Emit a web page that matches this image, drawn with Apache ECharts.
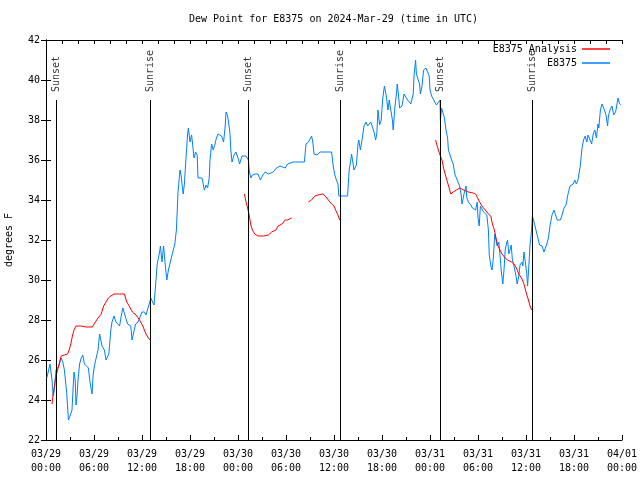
<!DOCTYPE html>
<html>
<head>
<meta charset="utf-8">
<script src="https://cdn.jsdelivr.net/npm/echarts@6/dist/echarts.min.js"></script>
<style>html,body{margin:0;padding:0;background:#fff}#c{width:640px;height:480px}</style>
</head>
<body>
<div id="c"></div>
<script>
// Hours since 2024-03-29 00:00 UTC, dew point in degrees F
var stationObs = [
[0.1,25.1],[0.5,25.8],[0.75,25.0],[0.9,24.2],[1.04,24.5],[1.25,25.5],[1.6,25.7],[1.9,26.1],[2.1,25.9],[2.3,25.5],[2.6,24.3],[2.8,23.0],[3.0,23.2],[3.25,23.5],[3.4,24.7],[3.5,25.4],[3.65,25.0],[3.75,23.75],[3.9,24.3],[4.0,25.0],[4.2,25.8],[4.4,26.1],[4.6,26.25],[4.8,25.8],[5.0,25.7],[5.3,25.6],[5.5,24.9],[5.75,24.3],[5.9,25.3],[6.1,25.8],[6.3,25.9],[6.5,26.5],[6.7,27.3],[6.9,26.9],[7.0,26.7],[7.15,26.8],[7.3,26.5],[7.5,26.0],[7.7,26.0],[7.85,26.3],[8.0,27.0],[8.1,27.5],[8.25,27.9],[8.5,28.2],[8.75,27.9],[8.95,27.8],[9.2,27.7],[9.4,28.2],[9.6,28.6],[9.8,28.7],[9.9,28.2],[10.2,27.8],[10.4,27.8],[10.6,27.7],[10.75,27.0],[10.9,27.1],[11.2,27.8],[11.5,27.9],[11.75,27.9],[12.0,28.4],[12.3,28.4],[12.5,28.25],[12.75,28.3],[12.9,28.8],
[13.1,29.1],[13.3,29.1],[13.5,28.75],[13.7,29.75],[13.9,30.8],[14.2,31.4],[14.3,31.7],[14.5,30.9],[14.7,31.7],[14.9,30.8],[15.1,30.0],[15.3,30.5],[15.6,31.0],[15.8,30.9],[16.1,31.8],[16.3,32.5],[16.5,34.4],[16.75,35.5],[16.9,35.2],[17.0,34.8],[17.15,34.3],[17.3,34.8],[17.45,35.8],[17.6,36.7],[17.7,37.3],[17.8,37.6],[18.0,36.9],[18.2,37.25],[18.3,36.9],[18.5,36.1],[18.7,36.4],[18.9,36.25],[19.0,35.1],[19.5,35.1],[19.7,35.0],[19.8,34.5],[20.0,34.75],[20.2,34.6],[20.4,35.1],[20.5,36.0],[20.7,36.8],[20.9,36.5],[21.1,36.75],[21.3,37.1],[21.5,37.3],[21.95,37.2],[22.2,36.9],[22.4,37.7],[22.5,38.4],[22.7,38.2],[22.85,37.8],[23.0,37.3],[23.1,36.5],[23.25,35.9],[23.5,36.25],[23.75,36.4],[24.0,36.1],[24.2,35.8],[24.5,36.2],[24.75,36.25],[25.0,36.2],[25.3,36.0],[25.4,35.5],[25.6,35.1],[25.8,35.25],[26.1,35.3],[26.5,35.3],[26.8,35.0],[27.1,35.25],[27.4,35.4],[27.8,35.3],[28.4,35.4],[28.8,35.6],[29.25,35.7],[29.9,35.6],[30.2,35.8],[30.4,35.9],[30.9,35.9],[32.3,35.9],[32.5,36.8],[32.8,36.9],[33.0,37.0],[33.2,37.2],[33.35,36.9],[33.5,36.3],[33.6,36.2],[33.9,36.25],[34.25,36.4],[35.7,36.4],[35.9,35.7],[36.1,35.25],[36.3,35.0],[36.5,34.8],[36.6,34.2],[37.7,34.2],[37.8,34.9],[37.9,35.5],[38.1,36.0],[38.2,36.3],[38.35,35.9],[38.5,35.5],[38.8,35.75],[39.0,36.8],[39.1,37.0],[39.3,36.5],[39.5,37.0],[39.75,37.7],[40.0,37.9],[40.2,37.7],[40.4,37.75],[40.6,37.9],[40.8,37.9],[41.0,37.4],[41.2,37.0],[41.35,37.3],[41.5,38.5],[41.7,37.75],[41.9,38.0],[42.1,39.1],[42.3,39.7],[42.5,39.3],[42.75,38.5],[42.9,39.0],[43.1,38.5],[43.3,38.0],[43.4,37.5],[43.6,38.6],[43.8,39.3],[43.9,39.8],[44.05,39.3],[44.2,38.6],[44.5,38.7],[44.75,39.3],[44.95,39.25],[45.2,39.0],[45.4,39.1],[45.6,38.8],[45.7,38.7],[45.9,39.3],[46.0,40.2],[46.2,41.0],[46.3,40.3],[46.5,40.2],[46.7,39.8],[46.8,39.3],[47.0,39.7],[47.2,40.5],[47.5,40.6],[47.7,40.5],[47.9,40.2],[48.0,39.5],[48.2,39.2],[48.4,39.1],[48.6,38.9],[48.8,38.75],[49.0,38.8],[49.25,39.0],[49.3,38.0],[49.45,38.6],[49.6,38.5],[49.8,38.1],[50.0,37.5],[50.2,37.1],[50.3,36.5],[50.5,36.6],[50.7,36.0],[50.9,35.8],[51.1,35.3],[51.3,35.2],[51.5,34.9],[51.7,34.7],[51.9,34.25],[52.0,33.8],[52.25,34.3],[52.5,34.7],[52.6,34.1],[52.8,33.9],[53.1,33.75],[53.3,33.6],[53.5,33.7],[53.7,33.5],[53.9,33.9],[54.0,33.1],[54.15,32.7],[54.3,33.7],[54.45,33.75],[54.7,33.4],[54.9,33.3],[55.1,33.25],[55.3,32.5],[55.4,31.3],[55.6,30.7],[55.75,30.5],[55.9,31.0],[56.1,32.3],[56.25,32.0],[56.4,31.7],[56.6,31.9],[56.75,31.25],[56.9,30.5],[57.1,29.8],[57.25,30.5],[57.4,31.5],[57.55,31.8],[57.7,32.0],[57.85,31.3],[58.0,31.5],[58.15,31.75],[58.3,31.0],[58.45,30.8],[58.6,30.7],[58.75,30.2],[58.9,29.8],[59.1,30.2],[59.25,30.75],[59.5,30.9],[59.6,30.7],[59.75,31.4],[59.9,31.3],[60.1,30.3],[60.2,29.7],[60.4,31.0],[60.5,31.75],[60.7,32.5],[60.8,33.2],[60.95,33.2],[61.1,32.75],[61.3,32.4],[61.5,32.3],[61.7,31.75],[62.0,31.7],[62.25,31.4],[62.45,31.4],[62.6,31.8],[62.8,32.1],[63.0,32.7],[63.25,33.25],[63.5,33.5],[63.7,33.25],[63.9,33.0],[64.3,33.0],[64.5,33.25],[64.75,33.6],[65.0,33.75],[65.25,34.3],[65.5,34.7],[65.7,34.75],[65.9,34.8],[66.1,35.0],[66.3,34.8],[66.5,35.0],[66.6,35.25],[66.8,35.75],[67.0,36.6],[67.2,37.0],[67.4,37.2],[67.6,36.9],[67.75,37.25],[67.95,37.3],[68.2,36.8],[68.4,37.3],[68.6,37.5],[68.8,37.1],[69.0,37.8],[69.1,37.6],[69.3,38.5],[69.5,38.8],[69.7,38.8],[69.8,38.5],[70.0,38.25],[70.2,37.7],[70.3,38.2],[70.5,38.5],[70.75,38.7],[70.95,38.25],[71.2,38.4],[71.35,38.75],[71.5,39.1],[71.7,38.8],[71.85,38.75]
];
var analysisObs = [
[0.75,23.8],[0.9,24.3],[1.25,25.2],[1.45,25.5],[1.7,25.9],[1.9,26.2],[2.3,26.25],[2.7,26.3],[2.9,26.5],[3.1,26.8],[3.3,27.2],[3.5,27.5],[3.75,27.7],[4.4,27.7],[5.0,27.65],[5.8,27.65],[6.0,27.8],[6.5,28.1],[6.9,28.3],[7.2,28.7],[7.5,28.9],[7.8,29.1],[8.1,29.2],[8.5,29.3],[9.2,29.3],[9.8,29.3],[10.1,28.9],[10.4,28.7],[10.8,28.4],[11.25,28.25],[11.7,28.0],[12.1,27.7],[12.5,27.3],[12.8,27.1],[13.0,27.0],
[18.0,null],
[24.8,34.3],[24.95,34.0],[25.2,33.6],[25.4,33.25],[25.6,32.75],[25.8,32.5],[26.1,32.3],[26.5,32.2],[27.2,32.2],[27.8,32.25],[28.2,32.4],[28.75,32.5],[29.0,32.7],[29.5,32.8],[29.9,33.0],[30.2,33.0],[30.7,33.1],
[31.8,null],
[32.8,33.9],[33.2,34.0],[33.6,34.2],[34.0,34.25],[34.6,34.3],[34.9,34.2],[35.3,34.0],[35.7,33.8],[36.0,33.7],[36.2,33.5],[36.5,33.25],[36.7,33.0],
[42.0,null],
[48.7,37.0],[48.9,36.7],[49.2,36.3],[49.5,36.0],[49.75,35.5],[50.1,35.0],[50.4,34.6],[50.6,34.3],[50.9,34.4],[51.3,34.5],[51.75,34.6],[52.2,34.5],[52.8,34.4],[53.4,34.35],[53.7,34.3],[53.9,34.2],[54.2,33.9],[54.5,33.7],[54.9,33.5],[55.3,33.3],[55.6,33.2],[55.8,32.8],[56.05,32.5],[56.25,32.1],[56.45,31.75],[56.75,31.5],[57.0,31.3],[57.4,31.1],[57.7,31.0],[58.2,30.9],[58.5,30.8],[58.8,30.6],[59.1,30.3],[59.45,30.1],[59.75,29.8],[60.0,29.4],[60.3,29.0],[60.5,28.7],[60.7,28.5]
];
var sunNames = ['Sunset','Sunrise','Sunset','Sunrise','Sunset','Sunrise'];
var sunHours = [1.25, 13.0, 25.25, 36.75, 49.25, 60.75];
var xTickLabels = ['03/29\n00:00','03/29\n06:00','03/29\n12:00','03/29\n18:00','03/30\n00:00','03/30\n06:00','03/30\n12:00','03/30\n18:00','03/31\n00:00','03/31\n06:00','03/31\n12:00','03/31\n18:00','04/01\n00:00'];

var FONT = 'DejaVu Sans Mono';
var sunLineTop = 39, sunLabelBase = 39.4, yMin = 22, yMax = 42;

var chart = echarts.init(document.getElementById('c'), null, {renderer:'canvas'});
var sunLines = sunHours.map(function(h){ return [{coord:[h, yMin]},{coord:[h, sunLineTop]}]; });
var sunLabels = sunHours.map(function(h,i){ return {name:sunNames[i], value:[h, sunLabelBase]}; });

chart.setOption({
  animation:false,
  backgroundColor:'#fff',
  textStyle:{fontFamily:FONT, color:'#000'},
  title:{text:'Dew Point for E8375 on 2024-Mar-29 (time in UTC)', left:189, top:14, padding:0,
    textStyle:{fontFamily:FONT, fontSize:10, fontWeight:'normal', color:'#000'}},
  legend:{data:['E8375 Analysis','E8375'], orient:'vertical', right:30, top:44, align:'right',
    itemWidth:28, itemHeight:1.5, itemGap:4, icon:'rect', padding:0,
    textStyle:{fontFamily:FONT, fontSize:10, color:'#000', padding:[0,0,0,0]}},
  grid:{left:46, right:18, top:40, bottom:40, containLabel:false, outerBoundsMode:'none'},
  xAxis:[{type:'value', min:0, max:72, interval:6, position:'bottom',
    axisLine:{lineStyle:{color:'#000', width:1}},
    axisTick:{inside:true, length:5, lineStyle:{color:'#000'}},
    minorTick:{show:true, splitNumber:2, length:3, lineStyle:{color:'#000'}},
    splitLine:{show:false},
    axisLabel:{margin:7, fontFamily:FONT, fontSize:10, color:'#000', lineHeight:14,
      formatter:function(v){ return xTickLabels[Math.round(v/6)]; }}},
   {type:'value', min:0, max:72, interval:2, position:'top',
    axisLine:{lineStyle:{color:'#000', width:1}},
    axisTick:{inside:true, length:4, lineStyle:{color:'#000'}},
    splitLine:{show:false}, axisLabel:{show:false}}],
  yAxis:[{type:'value', min:yMin, max:yMax, interval:2, position:'left',
    name:'degrees F', nameLocation:'middle', nameGap:32, nameRotate:90,
    nameTextStyle:{fontFamily:FONT, fontSize:10, color:'#000'},
    axisLine:{show:true, lineStyle:{color:'#000', width:1}},
    axisTick:{show:true, inside:true, length:5, lineStyle:{color:'#000'}},
    splitLine:{show:false},
    axisLabel:{margin:6, fontFamily:FONT, fontSize:10, color:'#000'}},
   {type:'value', min:yMin, max:yMax, interval:2, position:'right',
    axisLine:{show:true, lineStyle:{color:'#000', width:1}},
    axisTick:{show:true, inside:true, length:5, lineStyle:{color:'#000'}},
    splitLine:{show:false}, axisLabel:{show:false}}],
  series:[
    {name:'E8375', type:'line', data:stationObs, showSymbol:false, symbol:'none',
      lineStyle:{color:'#0080ff', width:1}, itemStyle:{color:'#0080ff'}, z:2, silent:true},
    {name:'E8375 Analysis', type:'line', data:analysisObs, showSymbol:false, symbol:'none', connectNulls:false,
      lineStyle:{color:'#ff0000', width:1}, itemStyle:{color:'#ff0000'}, z:3, silent:true},
    {name:'sun', type:'scatter', data:sunLabels, symbolSize:0, silent:true, z:4,
      label:{show:true, formatter:'{b}', rotate:90, position:'inside', align:'left', verticalAlign:'middle',
        fontFamily:FONT, fontSize:10, color:'#000'},
      markLine:{silent:true, symbol:['none','none'], animation:false,
        lineStyle:{color:'#000', width:1, type:'solid'}, label:{show:false},
        data:sunLines}}
  ]
});
</script>
</body>
</html>
